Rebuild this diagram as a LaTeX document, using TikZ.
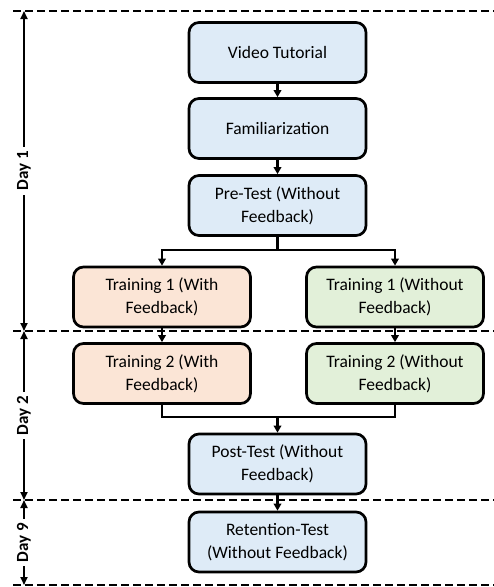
\documentclass[tikz,border=0pt]{standalone}
\usepackage{fontspec}
\setmainfont{Carlito}
\usetikzlibrary{arrows.meta}
\definecolor{boxblue}{HTML}{DEEBF7}
\definecolor{boxorange}{HTML}{FBE5D6}
\definecolor{boxgreen}{HTML}{E2F0D9}
\tikzset{
  stage/.style={draw=black, line width=2.7pt, rounded corners=10pt,
    minimum width=177pt, minimum height=60pt, align=center, inner sep=2pt,
    font=\fontsize{17.5}{23}\selectfont},
  blue stage/.style={stage, fill=boxblue},
  orange stage/.style={stage, fill=boxorange},
  green stage/.style={stage, fill=boxgreen},
  flow/.style={line width=2.1pt, -{Triangle[length=7pt,width=7.5pt]}},
  link/.style={line width=2.1pt},
  daysep/.style={line width=2pt, dash pattern=on 7.5pt off 4.5pt},
  span/.style={line width=1.8pt, {Triangle[length=8pt,width=7pt]}-{Triangle[length=8pt,width=7pt]}},
  daylabel/.style={fill=white, rotate=90, inner sep=4pt, font=\bfseries\fontsize{17}{20}\selectfont}
}
\begin{document}
\begin{tikzpicture}[x=1pt,y=1pt]
\useasboundingbox (0,0) rectangle (494,-587);

% day separators
\coordinate (s0a) at (13,-11);  \coordinate (s0b) at (494,-11);
\coordinate (s1a) at (13,-331); \coordinate (s1b) at (494,-331);
\coordinate (s2a) at (13,-500); \coordinate (s2b) at (494,-500);
\coordinate (s3a) at (13,-585); \coordinate (s3b) at (494,-585);
\draw[daysep] (s0a) -- (s0b);
\draw[daysep] (s1a) -- (s1b);
\draw[daysep] (s2a) -- (s2b);
\draw[daysep] (s3a) -- (s3b);

% stages
\node[blue stage] (video) at (277.5,-52.5) {Video Tutorial};
\node[blue stage] (fam) at (277.5,-128.5) {Familiarization};
\node[blue stage] (pre) at (277.5,-205.5) {Pre-Test (Without\\Feedback)};
\node[orange stage] (t1l) at (162,-297) {Training 1 (With\\Feedback)};
\node[green stage] (t1r) at (395,-297) {Training 1 (Without\\Feedback)};
\node[orange stage] (t2l) at (162,-373.5) {Training 2 (With\\Feedback)};
\node[green stage] (t2r) at (395,-373.5) {Training 2 (Without\\Feedback)};
\node[blue stage] (post) at (277.5,-464) {Post-Test (Without\\Feedback)};
\node[blue stage] (ret) at (277.5,-542) {Retention-Test\\(Without Feedback)};

% connectors
\draw[flow] (video) -- (fam);
\draw[flow] (fam) -- (pre);
\coordinate (split) at (277.5,-250);
\draw[link] (pre) -- (split);
\draw[flow] (split) -| (t1l.north);
\draw[flow] (split) -| (t1r.north);
\draw[flow] (t1l) -- (t2l);
\draw[flow] (t1r) -- (t2r);
\coordinate (merge) at (277.5,-417);
\draw[link] (t2l.south) |- (merge);
\draw[link] (t2r.south) |- (merge);
\draw[flow] (merge) -- (post);
\draw[flow] (post) -- (ret);

% day spans
\coordinate (d0) at (24,-11);
\coordinate (d1) at (24,-331);
\coordinate (d2) at (24,-500);
\coordinate (d3) at (24,-585);
\draw[span] (d0) -- (d1) node[midway, daylabel] {Day 1};
\draw[span] (d1) -- (d2) node[midway, daylabel] {Day 2};
\draw[span] (d2) -- (d3) node[midway, daylabel] {Day 9};
\end{tikzpicture}
\end{document}
